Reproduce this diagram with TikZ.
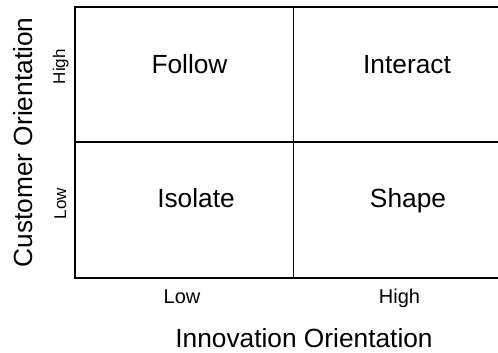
\documentclass[tikz,border=0pt]{standalone}
\usepackage{fontspec}
\setmainfont{Liberation Sans}
\begin{document}
\begin{tikzpicture}[x=1pt,y=-1pt,
  lbl/.style={inner sep=0pt,anchor=base},
  big/.style={lbl,font=\fontsize{26.3}{30}\selectfont},
  small/.style={lbl,font=\fontsize{20}{24}\selectfont},
  tiny/.style={lbl,font=\fontsize{17}{20}\selectfont},
  grid/.style={line width=1.5pt,black}]
\useasboundingbox (0,0) rectangle (498,353);
\coordinate (tl) at (75,7);
\coordinate (bl) at (75,278);
\coordinate (tr) at (499,7);
\coordinate (br) at (499,278);
\coordinate (mt) at (293.5,7);
\coordinate (mb) at (293.5,278);
\coordinate (ml) at (75,142);
\coordinate (mr) at (499,142);
\draw[grid] (tr) -- (tl) -- (bl) -- (br);
\draw[grid] (mt) -- (mb);
\draw[grid] (ml) -- (mr);
\node[big] (follow) at (189.5,73.3) {Follow};
\node[big] (interact) at (407,73.3) {Interact};
\node[big] (isolate) at (196,207) {Isolate};
\node[big] (shape) at (408,207) {Shape};
\node[small] (xlow) at (182,303.3) {Low};
\node[small] (xhigh) at (399.5,303.3) {High};
\node[big] (xlab) at (304,347.3) {Innovation Orientation};
\node[tiny,rotate=90] (yhigh) at (65,66.7) {High};
\node[tiny,rotate=90] (ylow) at (66,203.5) {Low};
\node[big,rotate=90] (ylab) at (32.5,142.5) {Customer Orientation};
\end{tikzpicture}
\end{document}
